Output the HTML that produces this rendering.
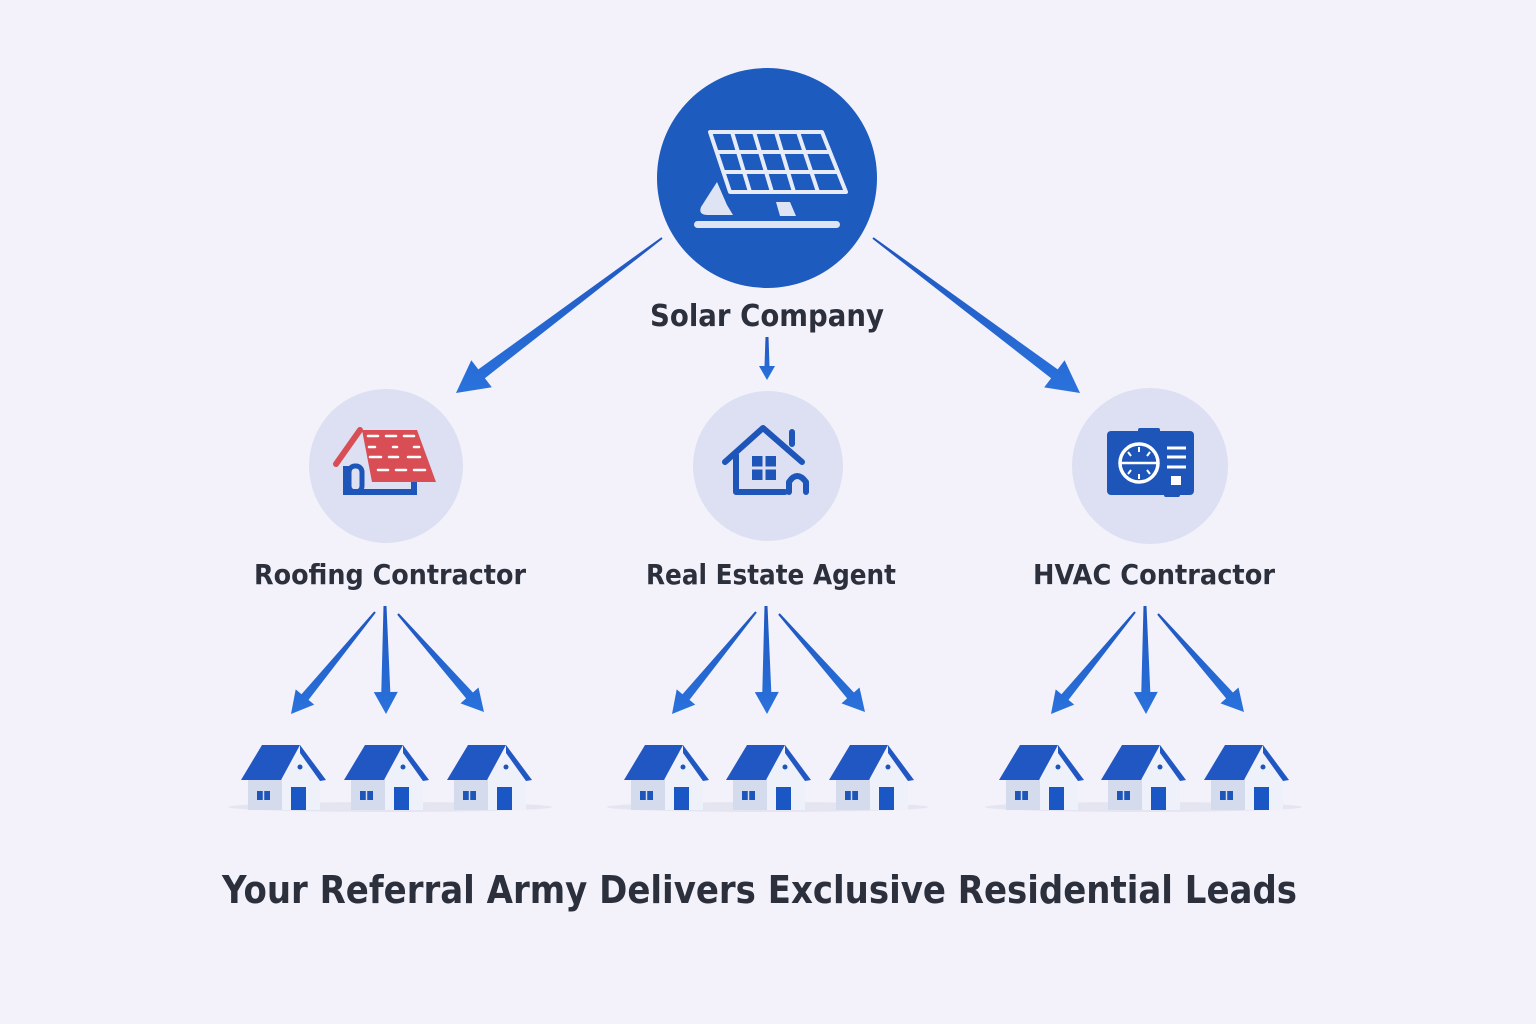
<!DOCTYPE html>
<html><head><meta charset="utf-8"><style>
html,body{margin:0;padding:0;background:#f3f2fb;}
svg{display:block}
text{font-family:"DejaVu Sans","Liberation Sans",sans-serif;font-weight:bold;fill:#2b303c;}
</style></head><body>
<svg id="s" width="1536" height="1024" viewBox="0 0 1536 1024" xmlns="http://www.w3.org/2000/svg">
<defs>
<linearGradient id="ag" x1="0" y1="0" x2="0" y2="1"><stop offset="0" stop-color="#1f56c0"/><stop offset="1" stop-color="#2a72dc"/></linearGradient>
</defs>
<rect width="1536" height="1024" fill="#f3f2fb"/>
<circle cx="767" cy="178" r="110" fill="#1d5bbf"/>
<g fill="none" stroke="#e8ecf8" stroke-width="4" stroke-linejoin="round">
<polygon points="710,132 822,132 846,192 730,192"/>
<line x1="718" y1="152" x2="830" y2="152"/>
<line x1="724" y1="172" x2="838" y2="172"/>
<line x1="732" y1="132" x2="750" y2="192"/>
<line x1="754" y1="132" x2="772" y2="192"/>
<line x1="776" y1="132" x2="794" y2="192"/>
<line x1="798" y1="132" x2="818" y2="192"/>
</g>
<path d="M717,182 L701,207 Q698,215 708,215 L733,215 L727,205 Z" fill="#dfe4f4"/>
<polygon points="776,202 790,202 796,216 780,216" fill="#dfe4f4"/>
<rect x="694" y="221" width="146" height="7" rx="3.5" fill="#dfe4f4"/>
<text x="650" y="326" font-size="30" textLength="234" lengthAdjust="spacingAndGlyphs">Solar Company</text>
<circle cx="386" cy="466" r="77" fill="#dde0f2"/>
<circle cx="768" cy="466" r="75" fill="#dde0f2"/>
<circle cx="1150" cy="466" r="78" fill="#dde0f2"/>
<g>
<path d="M346,466 L346,492 L414,492 L414,478" fill="none" stroke="#1d55b8" stroke-width="6"/>
<rect x="349" y="466" width="13" height="26" rx="6" fill="none" stroke="#1d55b8" stroke-width="5"/>
<polygon points="362,430 417,430 436,482 372,482" fill="#d94e55"/>
<path d="M336,464 L360,430" stroke="#d94e55" stroke-width="6" stroke-linecap="round"/>
<g stroke="#fff" stroke-width="2.5" stroke-linecap="round">
<line x1="368" y1="436" x2="378" y2="436"/><line x1="386" y1="436" x2="396" y2="436"/><line x1="404" y1="436" x2="414" y2="436"/>
<line x1="369" y1="447" x2="375" y2="447"/><line x1="393" y1="447" x2="397" y2="447"/><line x1="414" y1="447" x2="419" y2="447"/>
<line x1="370" y1="457" x2="381" y2="457"/><line x1="389" y1="457" x2="398" y2="457"/><line x1="408" y1="457" x2="420" y2="457"/>
<line x1="378" y1="470" x2="388" y2="470"/><line x1="396" y1="470" x2="406" y2="470"/><line x1="414" y1="470" x2="425" y2="470"/>
</g>
</g>
<g fill="none" stroke="#1d55b8" stroke-width="6" stroke-linecap="round" stroke-linejoin="round">
<path d="M725,462 L763,428 L802,462"/>
<path d="M736,455 L736,492 L785,492"/>
<path d="M789,492 L789,482 Q797,470 806,482 L806,492"/>
<line x1="792" y1="432" x2="792" y2="444"/>
</g>
<rect x="752" y="456" width="24" height="24" fill="#1d55b8"/>
<g stroke="#dde0f2" stroke-width="3"><line x1="764" y1="456" x2="764" y2="480"/><line x1="752" y1="468" x2="776" y2="468"/></g>
<rect x="1107" y="431" width="87" height="64" rx="4" fill="#1d55b8"/>
<rect x="1138" y="428" width="22" height="6" rx="2" fill="#1d55b8"/>
<rect x="1164" y="490" width="16" height="7" rx="2" fill="#1d55b8"/>
<circle cx="1139" cy="463" r="19" fill="none" stroke="#fff" stroke-width="3.5"/>
<line x1="1120" y1="463" x2="1158" y2="463" stroke="#fff" stroke-width="2.5"/>
<g stroke="#fff" stroke-width="2"><line x1="1139" y1="447" x2="1139" y2="452"/><line x1="1139" y1="474" x2="1139" y2="479"/><line x1="1128" y1="452" x2="1131" y2="456"/><line x1="1150" y1="452" x2="1147" y2="456"/><line x1="1128" y1="474" x2="1131" y2="470"/><line x1="1150" y1="474" x2="1147" y2="470"/></g>
<g stroke="#fff" stroke-width="3"><line x1="1167" y1="448" x2="1186" y2="448"/><line x1="1167" y1="457" x2="1186" y2="457"/><line x1="1167" y1="467" x2="1186" y2="467"/></g>
<rect x="1171" y="476" width="10" height="9" fill="#fff"/>
<text x="254" y="584" font-size="28" textLength="272" lengthAdjust="spacingAndGlyphs">Roofing Contractor</text>
<text x="646" y="584" font-size="28" textLength="250" lengthAdjust="spacingAndGlyphs">Real Estate Agent</text>
<text x="1033" y="584" font-size="28" textLength="242" lengthAdjust="spacingAndGlyphs">HVAC Contractor</text>
<text x="222" y="903" font-size="38" textLength="1075" lengthAdjust="spacingAndGlyphs">Your Referral Army Delivers Exclusive Residential Leads</text>
<g id="arrows"></g>
<g id="houses"></g>
</svg>
<script>
var NS="http://www.w3.org/2000/svg";
function arrow(sx,sy,ex,ey,h,hw,w0,w1){
 var dx=ex-sx,dy=ey-sy,L=Math.hypot(dx,dy);dx/=L;dy/=L;var nx=-dy,ny=dx;
 var bx=ex-dx*h,by=ey-dy*h;
 var p=[[sx+nx*w0/2,sy+ny*w0/2],[bx+nx*w1/2,by+ny*w1/2],[bx+nx*hw,by+ny*hw],[ex,ey],[bx-nx*hw,by-ny*hw],[bx-nx*w1/2,by-ny*w1/2],[sx-nx*w0/2,sy-ny*w0/2]];
 var e=document.createElementNS(NS,"polygon");
 e.setAttribute("points",p.map(function(q){return q[0].toFixed(1)+","+q[1].toFixed(1)}).join(" "));
 e.setAttribute("fill","url(#ag)");
 document.getElementById("arrows").appendChild(e);
}
arrow(662,238,456,393,32,17,2,11);
arrow(873,238,1080,393,32,17,2,11);
arrow(767,337,767,380,14,8,3,5);
[[0,0],[381,0],[760,0]].forEach(function(o){
 var x=o[0];
 arrow(375+x,612,291+x,714,22,12,2,9);
 arrow(385+x,606,386+x,714,22,12,3,9);
 arrow(398+x,614,484+x,712,22,12,2,9);
});
var hx=[240,343,446,623,725,828,998,1100,1203];
var g=document.getElementById("houses");
[[228,552],[607,928],[985,1302]].forEach(function(r){
 var e=document.createElementNS(NS,"ellipse");e.setAttribute("cx",(r[0]+r[1])/2);e.setAttribute("cy",807);e.setAttribute("rx",(r[1]-r[0])/2);e.setAttribute("ry",5);e.setAttribute("fill","#e4e5f0");g.appendChild(e);
});
hx.forEach(function(x){
 var y=743;
 g.insertAdjacentHTML("beforeend",
 '<g transform="translate('+x+','+y+')">'+
 '<rect x="8" y="34" width="34" height="33" fill="#d3dbec"/>'+
 '<polygon points="42,34 60,10 80,34 80,67 42,67" fill="#eef1f9"/>'+
 '<polygon points="1,37 22,2 60,2 41,37" fill="#2157c2"/>'+
 '<polygon points="60,2 86,37 80,38 60,10" fill="#2157c2"/>'+
 '<circle cx="60" cy="24" r="2.5" fill="#1d55b8"/>'+
 '<rect x="17" y="48" width="13" height="9" fill="#1d55b8"/>'+
 '<line x1="23.5" y1="48" x2="23.5" y2="57" stroke="#d3dbec" stroke-width="1.5"/>'+
 '<rect x="51" y="44" width="15" height="23" fill="#1a57c4"/>'+
 '</g>');
});
</script>
</body></html>
